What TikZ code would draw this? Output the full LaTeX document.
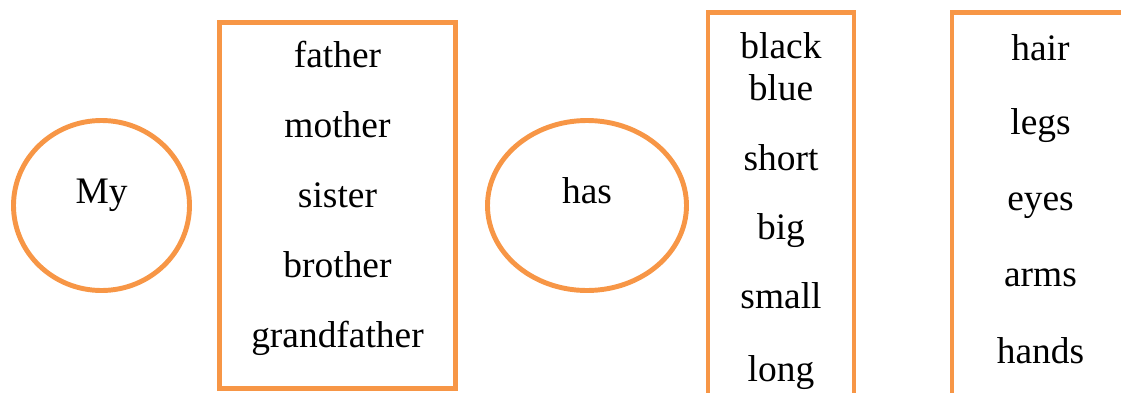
\documentclass[tikz,border=0pt]{standalone}
\usepackage{fontspec}
\setmainfont{Liberation Serif}
\newfontfamily\wordfont{Liberation Serif}
\usepackage{tikz}
\usepackage{xcolor}
\usetikzlibrary{positioning, calc}

\definecolor{boxorange}{HTML}{F79646}
\tikzset{
    orangeline/.style={line width=2.8pt, draw=boxorange},
    word/.style={font=\wordfont\fontsize{21.3}{25}\selectfont, anchor=base, inner sep=0pt}
}

\begin{document}
\begin{tikzpicture}
    \useasboundingbox (0,0) rectangle (22.42,7.84);
    \clip (0,0) rectangle (22.42,7.84);

    % Subject circle (My)
    \draw[orangeline] (2.03,3.73) ellipse (1.76cm and 1.70cm);
    \node[word] (my) at (2.03,3.78) {My};

    % Family box
    \draw[orangeline] (4.39,0.07) rectangle (9.11,7.39);
    \node[word] (father) at (6.75,6.50) {father};
    \node[word] (mother) at (6.75,5.10) {mother};
    \node[word] (sister) at (6.75,3.70) {sister};
    \node[word] (brother) at (6.75,2.30) {brother};
    \node[word] (grandfather) at (6.75,0.90) {grandfather};

    % Verb ellipse (has)
    \draw[orangeline] (11.74,3.73) ellipse (1.99cm and 1.70cm);
    \node[word] (has) at (11.74,3.78) {has};

    % Adjective box
    \draw[orangeline] (14.16,-0.5) rectangle (17.08,7.59);
    \node[word] (black) at (15.62,6.68) {black};
    \node[word] (blue) at (15.62,5.84) {blue};
    \node[word] (short) at (15.62,4.44) {short};
    \node[word] (big) at (15.62,3.06) {big};
    \node[word] (small) at (15.62,1.68) {small};
    \node[word] (long) at (15.62,0.22) {long};

    % Body part box (runs off the page)
    \draw[orangeline] (19.04,-0.5) rectangle (23.0,7.59);
    \node[word] (hair) at (20.81,6.64) {hair};
    \node[word] (legs) at (20.81,5.16) {legs};
    \node[word] (eyes) at (20.81,3.64) {eyes};
    \node[word] (arms) at (20.81,2.12) {arms};
    \node[word] (hands) at (20.81,0.58) {hands};

\end{tikzpicture}
\end{document}
